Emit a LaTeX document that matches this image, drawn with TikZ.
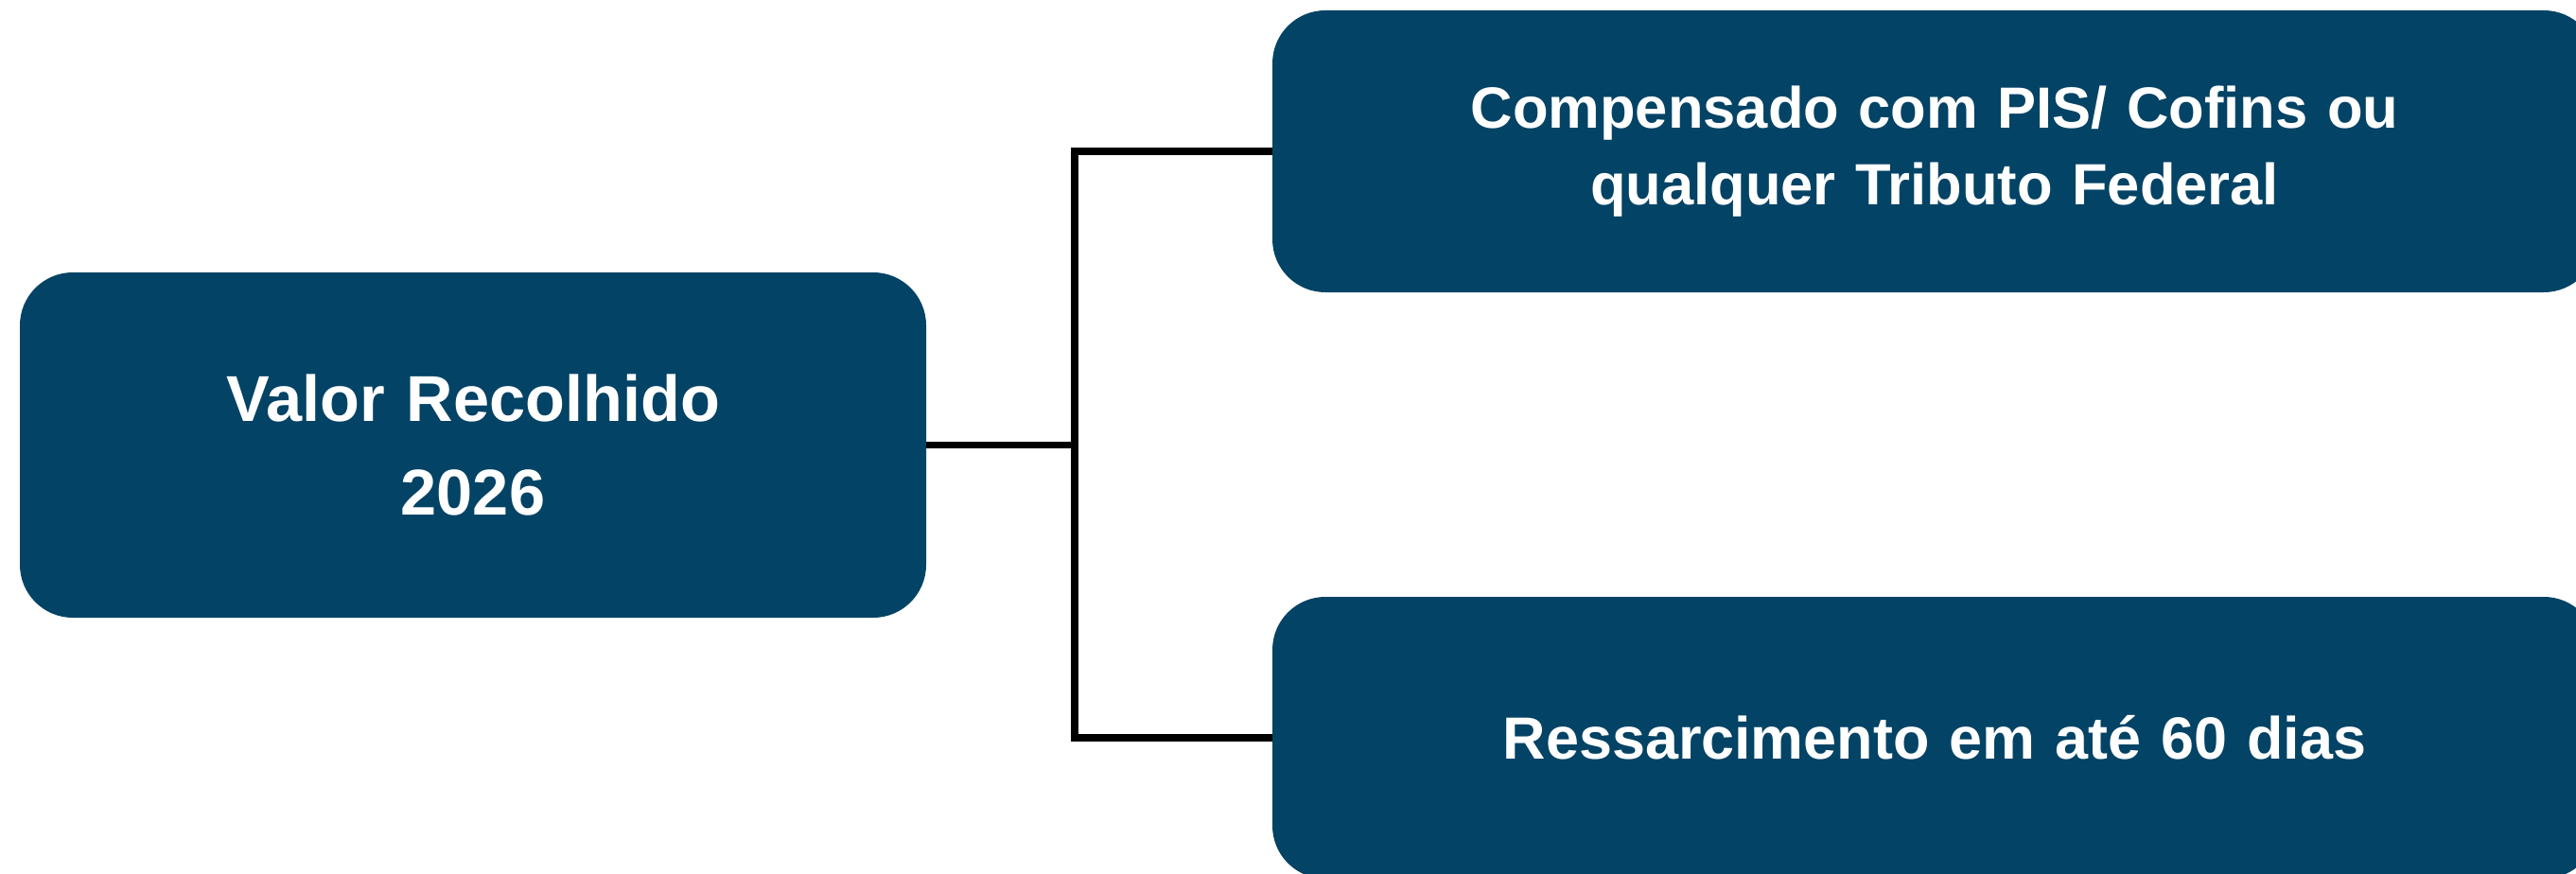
\documentclass[tikz,border=0pt]{standalone}
\usepackage{fontspec}
\setmainfont{Liberation Sans}
\usepackage{tikz}
\definecolor{petrol}{HTML}{034365}
\tikzset{
    caixa/.style={
           rectangle,
           rounded corners=0.56cm,
           fill=petrol, text=white,
           inner sep=0pt, outer sep=0pt,
           text centered,
           font=\bfseries\fontsize{17.9}{22.8}\selectfont},
    caixal/.style={caixa,
           minimum width=9.58cm,
           minimum height=3.65cm,
           text width=9cm,
           font=\bfseries\fontsize{19.5}{28}\selectfont},
    caixar/.style={caixa,
           minimum width=14cm,
           minimum height=2.98cm,
           text width=13cm},
    fio/.style={draw=black, line width=2.2pt}
    }
\begin{document}
\begin{tikzpicture}
      \clip (0,0) rectangle (27.23,9.23);
      \node[caixal] (valor) at (5.00,4.525) {Valor Recolhido \\ 2026};
      \node[caixar, font=\bfseries\fontsize{17.5}{23.2}\selectfont] (comp) at (20.45,7.63) {Compensado com PIS/ Cofins ou \\ qualquer Tributo Federal};
      \node[caixar] (ress) at (20.45,1.43) {Ressarcimento em até 60 dias};
      \coordinate (garfo) at (11.36,4.525);
      \draw[fio] (valor.east) -- (garfo);
      \draw[fio] (comp.west) -| (garfo) |- (ress.west);
\end{tikzpicture}
\end{document}
